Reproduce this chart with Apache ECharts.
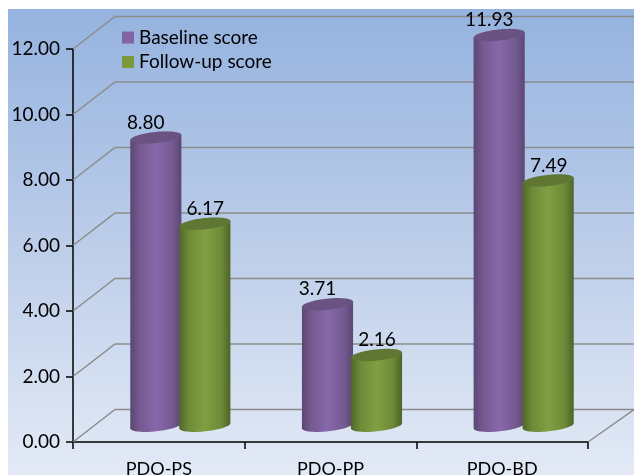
<!DOCTYPE html>
<html>
<head>
<meta charset="utf-8">
<style>
html,body{margin:0;padding:0;background:#fff;overflow:hidden}
#chart{width:634px;height:475px}
</style>
<script src="https://cdn.jsdelivr.net/npm/echarts@6/dist/echarts.min.js"></script>
</head>
<body>
<div id="chart"></div>
<script>
// Scores per PDO domain
const categories = ['PDO-PS', 'PDO-PP', 'PDO-BD'];
const baselineScore = [8.80, 3.71, 11.93];
const followUpScore = [6.17, 2.16, 7.49];
const yTicks = [0, 2, 4, 6, 8, 10, 12];

const FONT = 'Lato, "Open Sans", sans-serif';
const DEPTH_X = 43, DEPTH_Y = 32.5;   // oblique offset of the back wall
const WALL_RIGHT = 46;                // back wall overhang past the plot
const RX = 25.7, RY = 5.6, TILT = -6 * Math.PI / 180;

// Point on the tilted elliptical cap of a cylinder
function capPoint(cx, cy, t) {
  const c = Math.cos(t), s = Math.sin(t);
  return [
    cx + RX * c * Math.cos(TILT) - RY * s * Math.sin(TILT),
    cy + RX * c * Math.sin(TILT) + RY * s * Math.cos(TILT)
  ];
}
function arc(cx, cy, from, to, n) {
  const pts = [];
  for (let i = 0; i <= n; i++) pts.push(capPoint(cx, cy, from + (to - from) * i / n));
  return pts;
}
function hGradient(stops) {
  return {type: 'linear', x: 0, y: 0, x2: 1, y2: 0,
    colorStops: stops.map(s => ({offset: s[0], color: s[1]}))};
}

// Cylinder series: body, tilted top cap and value label
function cylinderSeries(name, values, palette, shiftX, labelShiftX) {
  return {
    type: 'custom',
    name: name,
    itemStyle: {color: palette.legend},
    data: values.map((v, i) => [i, v]),
    encode: {x: 0, y: 1},
    clip: false,
    z: 3,
    renderItem(params, api) {
      const cat = api.value(0), v = api.value(1);
      const head = api.coord([cat, v]), foot = api.coord([cat, 0]);
      const cx = head[0] + DEPTH_X / 2 + shiftX;
      const topY = head[1] - DEPTH_Y / 2;
      const botY = foot[1] - DEPTH_Y / 2;
      const body = arc(cx, botY, 0, Math.PI, 40);
      body.unshift(capPoint(cx, topY, 0));
      body.push(capPoint(cx, topY, Math.PI));
      return {
        type: 'group',
        children: [
          {type: 'polygon', shape: {points: body}, style: {fill: hGradient(palette.body)}},
          {type: 'polygon', shape: {points: arc(cx, topY, 0, 2 * Math.PI, 72)},
            style: {fill: palette.cap}},
          {type: 'text', style: {
            text: v.toFixed(2), x: cx + labelShiftX, y: topY - 15,
            align: 'center', verticalAlign: 'middle',
            fontFamily: FONT, fontSize: 19, fill: '#000'}}
        ]
      };
    }
  };
}

const chart = echarts.init(document.getElementById('chart'), null, {renderer: 'canvas'});
chart.setOption({
  animation: false,
  graphic: [{
    type: 'rect', z: -10, silent: true,
    shape: {x: 8, y: 9, width: 626, height: 466},
    style: {fill: {type: 'linear', x: 0, y: 0, x2: 0, y2: 1, colorStops: [
      {offset: 0, color: '#95b3df'},
      {offset: 0.5, color: '#bccde9'},
      {offset: 1, color: '#e3eaf6'}
    ]}}
  }],
  legend: {
    data: ['Baseline score', 'Follow-up score'],
    orient: 'vertical', left: 122, top: 28,
    icon: 'rect', itemWidth: 12, itemHeight: 12, itemGap: 5.5,
    padding: 0,
    textStyle: {fontFamily: FONT, fontSize: 19, color: '#000'}
  },
  grid: {left: 73, right: 46, top: 49, bottom: 33, outerBoundsMode: 'none'},
  xAxis: {
    type: 'category', data: categories,
    axisLine: {lineStyle: {color: '#000', width: 1.5}},
    axisTick: {show: true, length: 7, alignWithLabel: false, lineStyle: {color: '#000', width: 1.5}},
    axisLabel: {fontFamily: FONT, fontSize: 18, color: '#000', margin: 18}
  },
  yAxis: {
    type: 'value', min: 0, max: 12, interval: 2,
    axisLine: {show: true, lineStyle: {color: '#000', width: 1.5}},
    axisTick: {show: true, length: 7, lineStyle: {color: '#000', width: 1.5}},
    axisLabel: {fontFamily: FONT, fontSize: 19, color: '#000', margin: 13,
      padding: [4, 0, 0, 0], formatter: v => v.toFixed(2)},
    splitLine: {show: false}
  },
  series: [
    {
      // Side-wall and back-wall gridlines
      type: 'custom',
      name: 'walls',
      data: yTicks.map(v => [0, v]),
      encode: {x: 0, y: 1},
      clip: false,
      silent: true,
      z: 1,
      renderItem(params, api) {
        const y = api.coord([0, api.value(1)])[1];
        const sys = params.coordSys;
        const left = sys.x, right = sys.x + sys.width;
        const pts = [[left, y], [left + 42, y - DEPTH_Y], [right + WALL_RIGHT, y - DEPTH_Y]];
        if (api.value(1) === 0) pts.push([right, y]);
        return {type: 'polyline', shape: {points: pts},
          style: {fill: 'none', stroke: '#8c8c8c', lineWidth: 1.5}};
      }
    },
    cylinderSeries('Baseline score', baselineScore, {
      legend: '#8264a4',
      cap: '#6a5283',
      body: [[0, '#5b4775'], [0.18, '#75598f'], [0.5, '#8768ab'], [0.82, '#755a91'], [1, '#5b4775']]
    }, -24.5, -10),
    cylinderSeries('Follow-up score', followUpScore, {
      legend: '#7c9a3b',
      cap: '#5f7733',
      body: [[0, '#50682a'], [0.18, '#6d8a37'], [0.5, '#80a043'], [0.82, '#6d8a37'], [1, '#4d6428']]
    }, 24.5, 0.5)
  ]
});
</script>
</body>
</html>
